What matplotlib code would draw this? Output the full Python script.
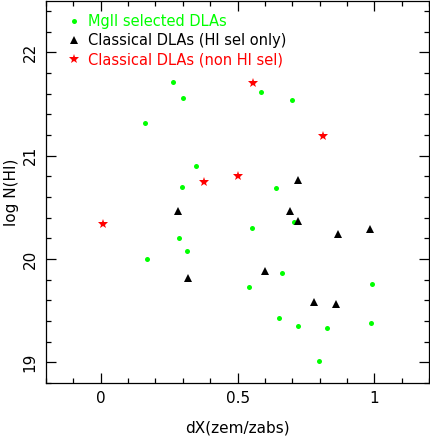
import numpy as np
import matplotlib
matplotlib.use('Agg')
import matplotlib.pyplot as plt
from matplotlib.ticker import MultipleLocator

# MgII selected DLAs (punti verdi)
mg_x = [0.162, 0.263, 0.300, 0.585, 0.700, 0.348, 0.296, 0.639, 0.552, 0.707, 0.287,
        0.314, 0.170, 0.662, 0.542, 0.991, 0.650, 0.722, 0.828, 0.989, 0.797]
mg_y = [21.32, 21.71, 21.56, 21.62, 21.54, 20.90, 20.70, 20.69, 20.30, 20.36, 20.20,
        20.08, 20.00, 19.86, 19.73, 19.76, 19.43, 19.35, 19.33, 19.38, 19.01]

# Classical DLAs (HI sel only) - triangoli neri
hi_x = [0.722, 0.284, 0.692, 0.722, 0.867, 0.983, 0.600, 0.319, 0.781, 0.858]
hi_y = [20.76, 20.46, 20.46, 20.37, 20.24, 20.29, 19.88, 19.82, 19.58, 19.56]

# Classical DLAs (non HI sel) - stelle rosse
non_x = [0.557, 0.812, 0.379, 0.500, 0.008]
non_y = [21.70, 21.19, 20.75, 20.80, 20.34]

fig = plt.figure(figsize=(4.30, 4.36), dpi=100)
ax = fig.add_axes([0.107, 0.122, 0.891, 0.876])

ax.plot(mg_x, mg_y, 'o', color='#00ff00', markersize=3.6, markeredgewidth=0,
        label='MgII selected DLAs')
ax.plot(hi_x, hi_y, '^', color='black', markersize=6, markeredgewidth=0,
        label='Classical DLAs (HI sel only)')
ax.plot(non_x, non_y, '*', color='red', markersize=7.5, markeredgewidth=0,
        label='Classical DLAs (non HI sel)')

ax.set_xlim(-0.2, 1.2)
ax.set_ylim(18.8, 22.5)
ax.xaxis.set_major_locator(MultipleLocator(0.5))
ax.xaxis.set_minor_locator(MultipleLocator(0.1))
ax.yaxis.set_major_locator(MultipleLocator(1))
ax.yaxis.set_minor_locator(MultipleLocator(0.2))
ax.set_xticks([0, 0.5, 1])
ax.set_xticklabels(['0', '0.5', '1'])
ax.tick_params(which='both', direction='in', top=True, right=True, labelsize=11, width=0.9)
ax.tick_params(which='major', length=7, pad=6)
ax.tick_params(which='minor', length=3.5)
for lab in ax.get_yticklabels():
    lab.set_rotation(90)
    lab.set_va('center')
for s in ax.spines.values():
    s.set_linewidth(0.9)

ax.set_xlabel('dX(zem/zabs)', fontsize=11, labelpad=10)
ax.set_ylabel('log N(HI)', fontsize=11, labelpad=3)

leg = ax.legend(loc='upper left', frameon=False, fontsize=10.5, handletextpad=0.4,
                borderaxespad=0.3, borderpad=0.6, labelspacing=0.28, handlelength=1.2,
                numpoints=1, bbox_to_anchor=(0.015, 1.0))
for t, c in zip(leg.get_texts(), ['#00ff00', 'black', 'red']):
    t.set_color(c)

plt.savefig('out.png', dpi=100)
